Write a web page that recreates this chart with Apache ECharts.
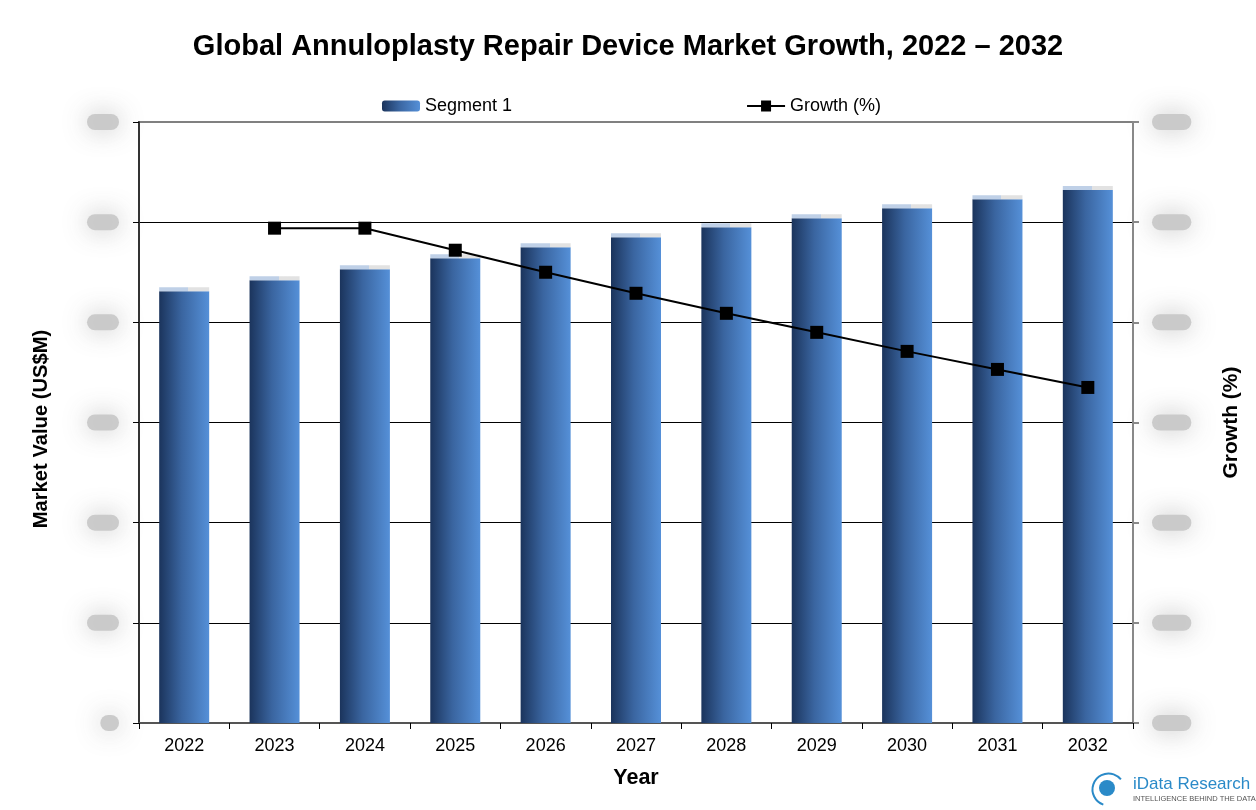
<!DOCTYPE html>
<html>
<head>
<meta charset="utf-8">
<script src="https://cdn.jsdelivr.net/npm/echarts@6/dist/echarts.min.js"></script>
<style>
  html, body { margin: 0; padding: 0; background: #fff; }
  #chart { width: 1256px; height: 810px; }
</style>
</head>
<body>
<div id="chart"></div>
<script>
const years = ['2022', '2023', '2024', '2025', '2026', '2027', '2028', '2029', '2030', '2031', '2032'];
const marketValue = [431, 442, 453, 464, 475, 485, 495, 504, 514, 523, 532];
const growth = [null, 4.94, 4.94, 4.72, 4.50, 4.29, 4.09, 3.90, 3.71, 3.53, 3.35];
const leftTicks = { min: 0, max: 600, interval: 100 };
const rightTicks = { min: 0, max: 6, interval: 1 };

const font = '"Liberation Sans", Arial, sans-serif';

// the reference hides its tick values behind grey blurred blobs
const blob = {
    color: 'rgba(203,203,203,0)',
    backgroundColor: 'rgba(198,198,198,0.9)',
    borderRadius: 9,
    padding: [2, 6],
    shadowBlur: 26,
    shadowColor: 'rgba(185,185,185,1)',
    fontSize: 12,
    fontFamily: font
};

const barFill = new echarts.graphic.LinearGradient(0, 0, 1, 0, [
    { offset: 0, color: '#1b345c' },
    { offset: 0.45, color: '#3a65a0' },
    { offset: 1, color: '#5590d8' }
]);
const capFill = new echarts.graphic.LinearGradient(0, 0, 1, 0, [
    { offset: 0, color: '#bfd0e7' },
    { offset: 0.58, color: '#bfd0e7' },
    { offset: 0.58, color: '#e2e2e2' },
    { offset: 1, color: '#e2e2e2' }
]);

const chart = echarts.init(document.getElementById('chart'));

chart.setOption({
    backgroundColor: '#fff',
    textStyle: { fontFamily: font },
    title: {
        text: 'Global Annuloplasty Repair Device Market Growth, 2022 – 2032',
        left: 'center',
        top: 27,
        textStyle: { fontSize: 29, fontWeight: 'bold', color: '#000', fontFamily: font }
    },
    legend: {
        left: 377,
        top: 92,
        itemGap: 235,
        itemWidth: 38,
        itemHeight: 11,
        data: [
            { name: 'Segment 1', itemStyle: { color: barFill } },
            { name: 'Growth (%)', icon: 'path://M0,4.5H14V0H24V4.5H38V6.5H24V11H14V6.5H0Z', itemStyle: { color: '#000' } }
        ],
        textStyle: { fontSize: 18, color: '#000', fontFamily: font }
    },
    grid: {
        left: 139,
        right: 123,
        top: 122,
        bottom: 87,
        show: true,
        borderColor: '#808080',
        borderWidth: 2,
        containLabel: false
    },
    xAxis: {
        type: 'category',
        data: years,
        name: 'Year',
        nameLocation: 'middle',
        nameGap: 44,
        nameTextStyle: { fontSize: 21.5, fontWeight: 'bold', color: '#000' },
        axisLine: { lineStyle: { color: '#555', width: 2 } },
        axisTick: { show: true, alignWithLabel: false, length: 6, lineStyle: { color: '#000' } },
        axisLabel: { fontSize: 18, color: '#000', margin: 14 }
    },
    yAxis: [
        {
            type: 'value',
            min: leftTicks.min,
            max: leftTicks.max,
            interval: leftTicks.interval,
            name: 'Market Value (US$M)',
            nameLocation: 'middle',
            nameRotate: 90,
            nameGap: 88,
            nameTextStyle: { fontSize: 20.2, fontWeight: 'bold', color: '#000', padding: [0, 13, 0, 0] },
            axisLine: { show: true, lineStyle: { color: '#333', width: 2 } },
            axisTick: { show: true, length: 6, lineStyle: { color: '#000' } },
            splitLine: { show: true, showMinLine: false, showMaxLine: false, lineStyle: { color: '#000', width: 1 } },
            axisLabel: {
                margin: 20,
                formatter: v => '{b|' + v + '}',
                rich: { b: blob }
            }
        },
        {
            type: 'value',
            min: rightTicks.min,
            max: rightTicks.max,
            interval: rightTicks.interval,
            name: 'Growth (%)',
            nameLocation: 'middle',
            nameRotate: 90,
            nameGap: 88,
            nameTextStyle: { fontSize: 21, fontWeight: 'bold', color: '#000' },
            axisLine: { show: true, lineStyle: { color: '#888', width: 2 } },
            axisTick: { show: true, length: 6, lineStyle: { color: '#888', width: 2 } },
            splitLine: { show: false },
            axisLabel: {
                margin: 19,
                formatter: v => '{b|' + v.toFixed(1) + '%}',
                rich: { b: blob }
            }
        }
    ],
    series: [
        {
            name: 'Segment 1',
            type: 'bar',
            data: marketValue,
            barWidth: 50,
            itemStyle: { color: barFill },
            z: 2
        },
        {
            name: 'cap',
            type: 'pictorialBar',
            data: marketValue,
            symbol: 'rect',
            symbolSize: [50, 4],
            symbolPosition: 'end',
            symbolOffset: [0, '-100%'],
            itemStyle: { color: capFill },
            silent: true,
            z: 3
        },
        {
            name: 'Growth (%)',
            type: 'line',
            yAxisIndex: 1,
            data: growth,
            symbol: 'rect',
            symbolSize: 13,
            lineStyle: { color: '#000', width: 2 },
            itemStyle: { color: '#000' },
            z: 5
        }
    ],
    graphic: [
        {
            type: 'arc',
            left: 1090,
            top: 771,
            shape: { cx: 0, cy: 0, r: 16, startAngle: 1.9, endAngle: 5.6 },
            style: { stroke: '#2a8ac8', lineWidth: 2, fill: null }
        },
        {
            type: 'circle',
            left: 1099,
            top: 780,
            shape: { r: 8 },
            style: { fill: '#2a8ac8' }
        },
        {
            type: 'text',
            left: 1133,
            top: 776,
            style: { text: 'iData Research', fill: '#2a8ac8', fontSize: 17, fontFamily: font }
        },
        {
            type: 'text',
            left: 1133,
            top: 795,
            style: { text: 'INTELLIGENCE BEHIND THE DATA', fill: '#555', fontSize: 7.5, fontFamily: font }
        }
    ]
});

window.addEventListener('resize', () => chart.resize());
</script>
</body>
</html>
